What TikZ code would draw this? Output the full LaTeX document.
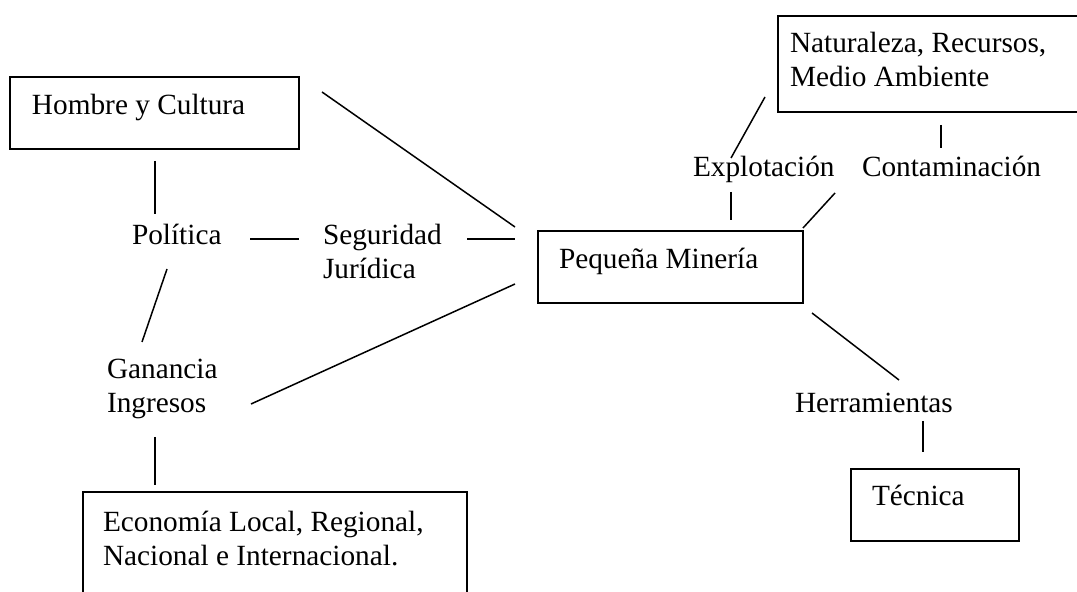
\documentclass[tikz,border=0pt]{standalone}
\usepackage{fontspec}
\setmainfont{Liberation Serif}
\newcommand\lblfont{\fontsize{14.65}{17}\selectfont}
\newcommand\twolines[2]{\begin{tabular}[t]{@{}l@{}}#1\\#2\end{tabular}}
\begin{document}
\begin{tikzpicture}[x=0.5pt,y=-0.5pt,
  box/.style={draw, line width=0.95pt, inner sep=0pt, outer sep=0pt, anchor=north west},
  lbl/.style={inner sep=0pt, outer sep=0pt, anchor=base west, font=\lblfont},
  conn/.style={line width=0.75pt}]
\useasboundingbox (0,0) rectangle (1077,592);
\clip (0,0) rectangle (1077,592);

% boxes
\node[box, minimum width=144.5pt, minimum height=36pt] (hombre) at (10,77) {};
\node[box, minimum width=160pt, minimum height=48pt] (natur) at (778,16) {};
\node[box, minimum width=132.5pt, minimum height=36pt] (pequena) at (538,231) {};
\node[box, minimum width=84pt, minimum height=36pt] (tecnica) at (851,469) {};
\node[box, minimum width=192pt, minimum height=60pt] (economia) at (83,492) {};

% texts
\node[lbl] (hombreT) at (32,115) {Hombre y Cultura};
\node[lbl] (naturT) at (790,53) {\twolines{Naturaleza, Recursos,}{Medio Ambiente}};
\node[lbl] (pequenaT) at (559,269) {Pequeña Minería};
\node[lbl] (tecnicaT) at (872,506) {Técnica};
\node[lbl] (economiaT) at (103,532) {\twolines{Economía Local, Regional,}{Nacional e Internacional.}};
\node[lbl] (politica) at (132,245) {Política};
\node[lbl] (seguridad) at (323,245) {\twolines{Seguridad}{Jurídica}};
\node[lbl] (ganancia) at (107,379) {\twolines{Ganancia}{Ingresos}};
\node[lbl] (explot) at (693,177) {Explotación};
\node[lbl] (contam) at (862,177) {Contaminación};
\node[lbl] (herram) at (795,413) {Herramientas};

% connector end points
\coordinate (hpA) at (155,161);  \coordinate (hpB) at (155,214);
\coordinate (psA) at (250,239);  \coordinate (psB) at (299,239);
\coordinate (sqA) at (467,239);  \coordinate (sqB) at (515,239);
\coordinate (hqA) at (322,92);   \coordinate (hqB) at (515,227);
\coordinate (pgA) at (167,269);  \coordinate (pgB) at (142,342);
\coordinate (gqA) at (251,404);  \coordinate (gqB) at (515,284);
\coordinate (geA) at (155,437);  \coordinate (geB) at (155,485);
\coordinate (enA) at (731,158);  \coordinate (enB) at (765,97);
\coordinate (eqA) at (731,192);  \coordinate (eqB) at (731,220);
\coordinate (ncA) at (941,125);  \coordinate (ncB) at (941,148);
\coordinate (cqA) at (835,193);  \coordinate (cqB) at (803,228);
\coordinate (qhA) at (812,313);  \coordinate (qhB) at (899,380);
\coordinate (htA) at (923,421);  \coordinate (htB) at (923,452);

% connectors
\draw[conn] (hpA) -- (hpB);
\draw[conn] (psA) -- (psB);
\draw[conn] (sqA) -- (sqB);
\draw[conn] (hqA) -- (hqB);
\draw[conn] (pgA) -- (pgB);
\draw[conn] (gqA) -- (gqB);
\draw[conn] (geA) -- (geB);
\draw[conn] (enA) -- (enB);
\draw[conn] (eqA) -- (eqB);
\draw[conn] (ncA) -- (ncB);
\draw[conn] (cqA) -- (cqB);
\draw[conn] (qhA) -- (qhB);
\draw[conn] (htA) -- (htB);
\end{tikzpicture}
\end{document}
